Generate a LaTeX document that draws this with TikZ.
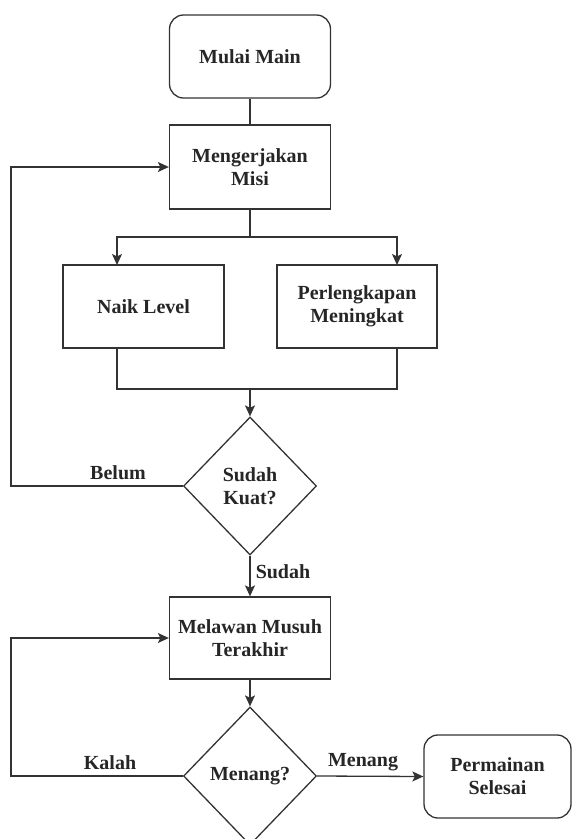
\documentclass[tikz,border=0pt]{standalone}
\usepackage{fontspec}
\setmainfont{Liberation Serif}
\usetikzlibrary{arrows.meta, shapes.geometric}

\begin{document}
\begin{tikzpicture}
    %defining some styles
    [
        x=1pt, y=-1pt,
        every node/.style={font=\bfseries\fontsize{20}{23}\selectfont, text=black!85},
        stepbox/.style={rectangle, draw=black!80, line width=1.3pt, minimum width=161pt, align=center, inner sep=0pt},
        terminal/.style={stepbox, rounded corners=14pt},
        decision/.style={diamond, draw=black!80, line width=1.3pt, minimum width=133pt, minimum height=138pt, align=center, inner sep=0pt},
        link/.style={draw=black!80, line width=1.3pt},
        arrow/.style={link, -{Stealth[length=11pt, width=10pt, inset=2.5pt]}},
        answer/.style={inner sep=0pt},
    ]
    \useasboundingbox (0,0) rectangle (573,839);

    \node (mulai) at (250,56.5) [terminal, minimum height=83pt] {Mulai Main};
    \node (misi) at (250,167) [stepbox, minimum height=84pt] {Mengerjakan\\Misi};
    \node (naik) at (143.5,306.5) [stepbox, minimum height=83pt] {Naik Level};
    \node (perlengkapan) at (357,306.5) [stepbox, minimum width=160pt, minimum height=83pt] {Perlengkapan\\Meningkat};
    \node (kuat) at (250,486) [decision] {Sudah\\Kuat?};
    \node (lawan) at (250,638) [stepbox, minimum height=82pt] {Melawan Musuh\\Terakhir};
    \node (menang) at (250,776) [decision] {Menang?};
    \node (selesai) at (497.5,776.5) [terminal, minimum width=147pt, minimum height=83pt] {Permainan\\Selesai};

    % split and join points of the branches
    \coordinate (pisah) at (250,237);
    \coordinate (naikMasuk) at (117,265);
    \coordinate (perlMasuk) at (397,265);
    \coordinate (naikKeluar) at (117,348);
    \coordinate (perlKeluar) at (397,348);
    \coordinate (gabung) at (250,389);
    \coordinate (kiriAtas) at (11,486);
    \coordinate (kiriBawah) at (11,776);

    \draw[link] (mulai) -- (misi);
    \draw[link] (misi) -- (pisah);
    \draw[arrow] (pisah) -| (naikMasuk);
    \draw[arrow] (pisah) -| (perlMasuk);
    \draw[link] (naikKeluar) |- (gabung) -| (perlKeluar);
    \draw[arrow] (gabung) -- (kuat);
    \draw[arrow] (kuat.west) -- (kiriAtas) |- (misi.west);
    \draw[arrow] (kuat) -- (lawan);
    \draw[arrow] (lawan) -- (menang);
    \draw[arrow] (menang.west) -- (kiriBawah) |- (lawan.west);
    \draw[arrow] (menang.east) -- (selesai.west);

    \node (belum) at (118,473) [answer] {Belum};
    \node (sudah) at (283,572) [answer] {Sudah};
    \node (kalah) at (110,763) [answer] {Kalah};
    \node (menangLabel) at (363,762) [answer] {Menang};
\end{tikzpicture}
\end{document}
